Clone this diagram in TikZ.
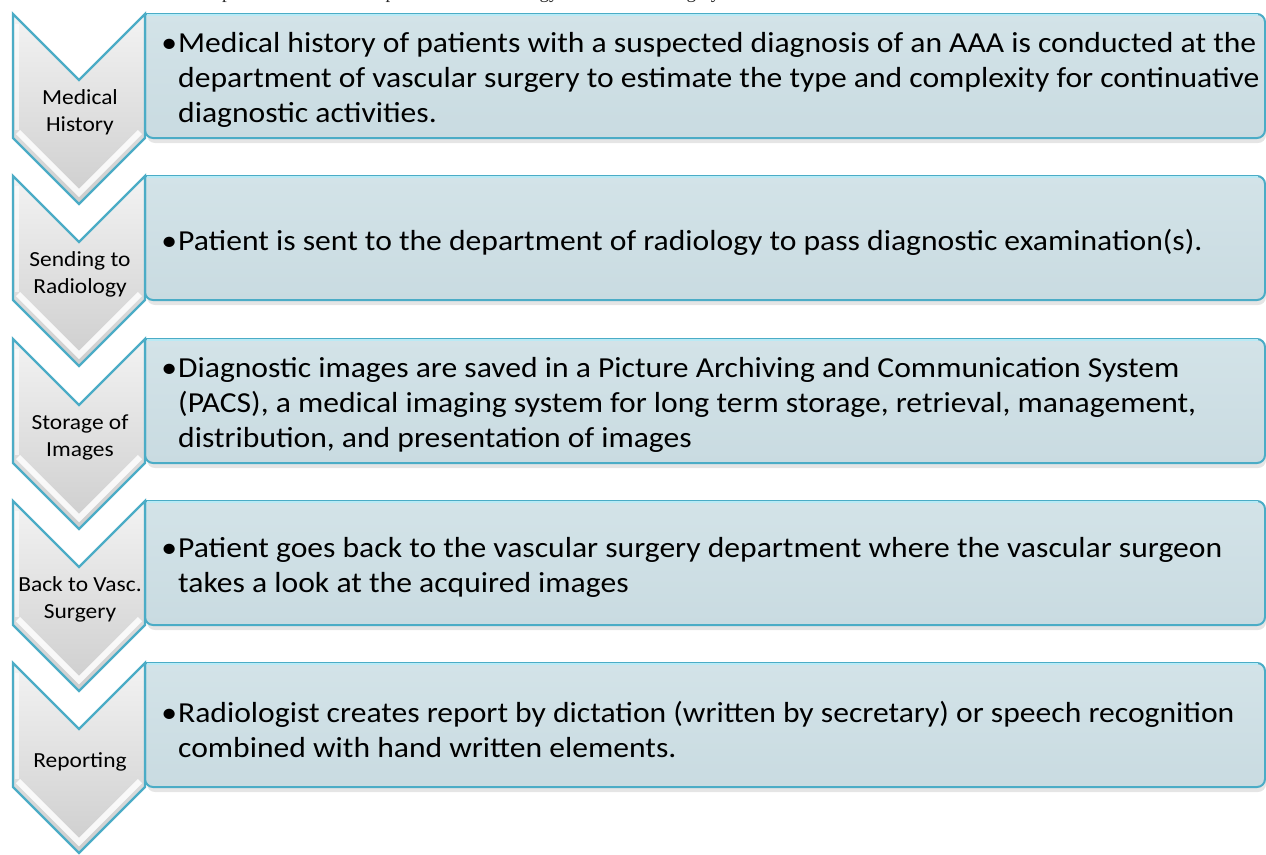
\documentclass[tikz,border=0pt]{standalone}
\usepackage{fontspec}
\setmainfont{Carlito}[FakeStretch=1.09]
\newfontfamily\capfont{Liberation Serif}
\usetikzlibrary{calc}
\definecolor{tealline}{HTML}{4BACC6}
\definecolor{boxtop}{HTML}{D3E3E8}
\definecolor{boxbot}{HTML}{C9DBE1}
\definecolor{topedge}{HTML}{B9EAF5}
\definecolor{chevtop}{HTML}{F3F3F3}
\definecolor{chevbot}{HTML}{CDCDCD}
\tikzset{
  chevbody/.style={top color=chevtop, bottom color=chevbot, draw=none},
  chevedge/.style={draw=tealline, line width=2.4pt, line join=miter},
  bevel/.style={draw=white, line width=6pt, opacity=0.85, line cap=butt},
  boxbody/.style={top color=boxtop, bottom color=boxbot, draw=tealline, line width=2pt},
  boxshadow/.style={fill=black, opacity=0.10},
  labeltext/.style={align=center, inner sep=0pt, font=\fontsize{21.5}{27}\selectfont},
  bullettext/.style={align=left, anchor=west, inner sep=0pt, font=\fontsize{29}{35}\selectfont}
}
\newcommand\procrow[4]{%
  % shadow of the box
  \fill[boxshadow, rounded corners=8pt] (147,#2+4) -- (1266,#2+4) -- (1266,#2+129) -- (147,#2+129) -- cycle;
  % box
  \path[boxbody, rounded corners=8pt] (145,#2) -- (1265,#2) -- (1265,#2+124) -- (145,#2+124) [sharp corners] -- cycle;
  \draw[topedge, line width=2pt] (147,#2+0.5) -- (1258,#2+0.5);
  % chevron
  \path[chevbody] (13,#2) -- (79,#2+66) -- (145,#2) -- (145,#2+124) -- (79,#2+190) -- (13,#2+124) -- cycle;
  \draw[bevel] (18,#2+118) -- (79,#2+179) -- (140,#2+118);
  \draw[draw=white, line width=4pt, opacity=0.6] (17,#2+10) -- (17,#2+116);
  \draw[chevedge] (13,#2) -- (79,#2+66) -- (145,#2) -- (145,#2+124) -- (79,#2+190) -- (13,#2+124) -- cycle;
  % texts
  \node[labeltext] (lab#1) at (80,#2+98.5) {#3};
  \node[bullettext] (txt#1) at (178,#2+66) {#4};
}
\begin{document}
\begin{tikzpicture}[x=1pt,y=-1pt]
\useasboundingbox (0,0) rectangle (1266,854);
\clip (0,0) rectangle (1266,854);
\fill[white] (0,0) rectangle (1266,854);
\node[anchor=base east, inner sep=0pt, font=\capfont\fontsize{19}{22}\selectfont, text=black!85] (caption) at (724,-1.5) {the related processes between departments of radiology and vascular surgery.};
\procrow{1}{14}{Medical\\History}{\llap{•\kern1pt}Medical history of patients with a suspected diagnosis of an AAA is conducted at the\\department of vascular surgery to estimate the type and complexity for continuative\\diagnostic activities.}
\procrow{2}{176}{Sending to\\Radiology}{\llap{•\kern1pt}Patient is sent to the department of radiology to pass diagnostic examination(s).}
\procrow{3}{339}{Storage of\\Images}{\llap{•\kern1pt}Diagnostic images are saved in a Picture Archiving and Communication System\\(PACS), a medical imaging system for long term storage, retrieval, management,\\distribution, and presentation of images}
\procrow{4}{501}{Back to Vasc.\\Surgery}{\llap{•\kern1pt}Patient goes back to the vascular surgery department where the vascular surgeon\\takes a look at the acquired images}
\procrow{5}{663}{Reporting}{\llap{•\kern1pt}Radiologist creates report by dictation (written by secretary) or speech recognition\\combined with hand written elements.}
\end{tikzpicture}
\end{document}
